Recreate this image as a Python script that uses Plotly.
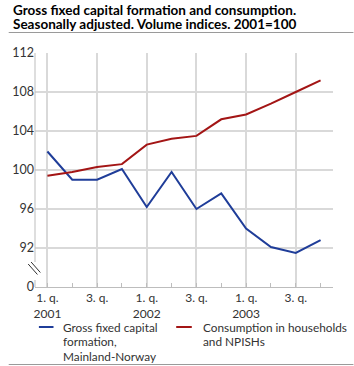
import plotly.graph_objects as go

quarters = ["2001Q1","2001Q2","2001Q3","2001Q4","2002Q1","2002Q2","2002Q3","2002Q4",
            "2003Q1","2003Q2","2003Q3","2003Q4"]
gross_fixed = [101.9, 99.0, 99.0, 100.1, 96.2, 99.8, 96.0, 97.6, 94.0, 92.1, 91.5, 92.8]
consumption = [99.4, 99.8, 100.3, 100.6, 102.6, 103.2, 103.5, 105.2, 105.7, 106.8, 108.0, 109.2]
series_names = [["Gross fixed capital", "formation,", "Mainland-Norway"],
                ["Consumption in households", "and NPISHs"]]
title_lines = ["Gross fixed capital formation and consumption.",
               "Seasonally adjusted. Volume indices. 2001=100"]
x_tick_labels = ["1. q.<br>2001", "3. q.", "1. q.<br>2002", "3. q.", "1. q.<br>2003", "3. q."]
y_tick_vals = [88, 92, 96, 100, 104, 108, 112]
y_tick_text = ["0", "92", "96", "100", "104", "108", "112"]

W, H = 354, 366
L, R, T, B = 27, 21, 53, 79
PW, PH = W - L - R, H - T - B

def px(x):
    return (x - L) / PW

def py(y):
    return (H - B - y) / PH

BLUE = "#1f3d99"
RED = "#a31515"
GRID = "#d9d9d9"
AXIS = "#bdbdbd"
FONT = "Lato"
TXT = "#333333"

xs = list(range(len(quarters)))
fig = go.Figure()
fig.add_trace(go.Scatter(x=xs, y=gross_fixed, mode="lines", line=dict(color=BLUE, width=2),
                         name=" ".join(series_names[0]), showlegend=False))
fig.add_trace(go.Scatter(x=xs, y=consumption, mode="lines", line=dict(color=RED, width=2),
                         name=" ".join(series_names[1]), showlegend=False))

shapes = []
# y axis line (broken)
shapes.append(dict(type="line", xref="paper", yref="paper", x0=0, x1=0, y0=py(262), y1=1,
                   line=dict(color=AXIS, width=1)))
shapes.append(dict(type="line", xref="paper", yref="paper", x0=0, x1=0, y0=0, y1=py(280),
                   line=dict(color=AXIS, width=1)))
# break symbol
for (x0, y0, x1, y1) in [(20, 264, 29.5, 274.5), (23, 262, 32.5, 272.5)]:
    shapes.append(dict(type="line", xref="paper", yref="paper", x0=px(x0), y0=py(y0),
                       x1=px(x1), y1=py(y1), line=dict(color="#333333", width=1)))
# separator lines
shapes.append(dict(type="line", xref="paper", yref="paper", x0=px(0), x1=px(W), y0=py(32.5), y1=py(32.5),
                   line=dict(color="#9a9a9a", width=1)))
shapes.append(dict(type="line", xref="paper", yref="paper", x0=px(0), x1=px(W), y0=py(364.5), y1=py(364.5),
                   line=dict(color="#9a9a9a", width=1)))

annotations = []
# legend
legend_items = [(31, 46, 55, BLUE), (172, 188, 198, RED)]
line_centers = [327, 341.5, 356]
for (lx0, lx1, tx, col), lines in zip(legend_items, series_names):
    shapes.append(dict(type="line", xref="paper", yref="paper", x0=px(lx0), x1=px(lx1),
                       y0=py(327), y1=py(327), line=dict(color=col, width=2)))
    for ln, yc in zip(lines, line_centers):
        annotations.append(dict(text=ln, xref="paper", yref="paper", x=px(tx), y=py(yc),
                                xanchor="left", yanchor="middle", align="left", showarrow=False,
                                borderpad=0, font=dict(family=FONT, size=11.8, color=TXT)))

# title
for ln, yc in zip(title_lines, [9.5, 24.5]):
    annotations.append(dict(text="<b>" + ln + "</b>", xref="paper", yref="paper", x=px(3), y=py(yc),
                            xanchor="left", yanchor="middle", align="left", showarrow=False,
                            borderpad=0, font=dict(family=FONT, size=13.5, color="#000000")))

fig.update_layout(
    width=W, height=H,
    margin=dict(l=L, r=R, t=T, b=B, pad=0),
    paper_bgcolor="white", plot_bgcolor="white",
    font=dict(family=FONT, size=12, color=TXT),
    shapes=shapes, annotations=annotations,
    showlegend=False,
)
fig.update_xaxes(range=[-0.5, 11.5], tickmode="array", tickvals=[0, 2, 4, 6, 8, 10],
                 ticktext=x_tick_labels, showgrid=True, gridcolor=GRID, gridwidth=1.5,
                 showline=True, linecolor=AXIS, linewidth=1, ticks="",
                 minor=dict(ticks="inside", tick0=0, dtick=1, ticklen=4, tickcolor=AXIS, showgrid=False),
                 zeroline=False, fixedrange=True, tickfont=dict(size=12, color=TXT))
fig.update_yaxes(range=[88, 112], tickmode="array", tickvals=y_tick_vals, ticktext=y_tick_text,
                 showgrid=True, gridcolor=GRID, gridwidth=1.5, showline=False, ticks="",
                 zeroline=False, fixedrange=True, tickfont=dict(size=12.5, color=TXT))

fig.write_html("out.html")
